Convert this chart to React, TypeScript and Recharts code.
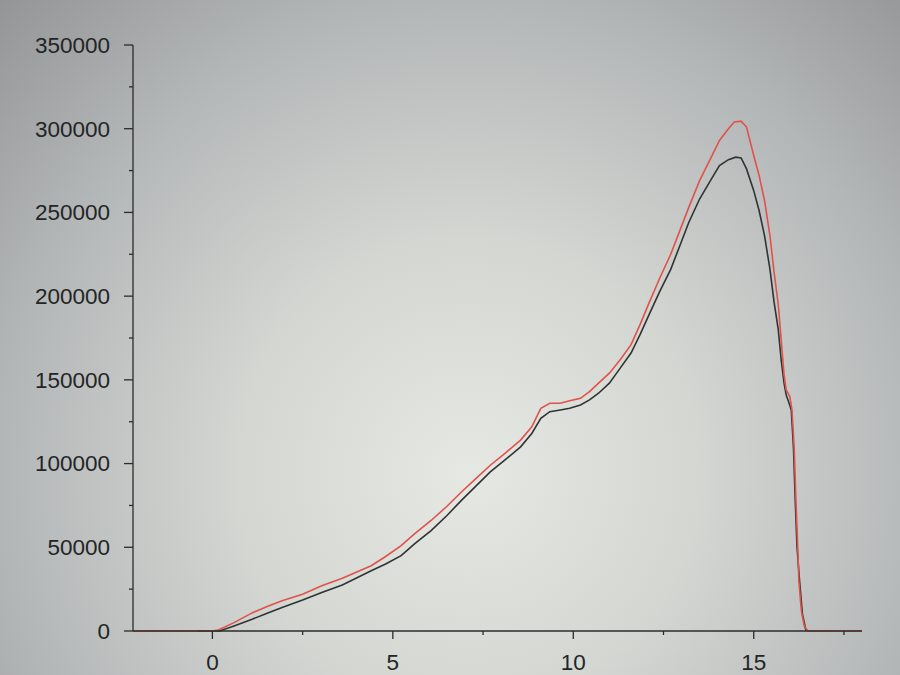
import React from 'react';
import { LineChart, Line, XAxis, YAxis } from 'recharts';

// red trace (upper)
const redX = [-2.2, 0.0, 0.15, 0.6, 1.1, 1.5, 1.93, 2.5, 3.03, 3.6, 4.4, 4.8, 5.23, 5.6, 6.06, 6.5, 6.9, 7.3, 7.7, 8.1, 8.54, 8.85, 9.1, 9.35, 9.64, 9.9, 10.2, 10.45, 10.7, 11.0, 11.3, 11.6, 11.85, 12.1, 12.4, 12.7, 12.95, 13.2, 13.5, 13.8, 14.05, 14.3, 14.46, 14.65, 14.8, 15.0, 15.15, 15.3, 15.45, 15.56, 15.68, 15.76, 15.84, 15.9, 16.0, 16.06, 16.12, 16.17, 16.22, 16.25, 16.32, 16.4, 16.5, 18.0];
const redY = [0, 0, 500, 5000, 10800, 14500, 18000, 22000, 27000, 31500, 39000, 44500, 51000, 58000, 66000, 74500, 83000, 91000, 99000, 106000, 114000, 122000, 133000, 136000, 136000, 137500, 139000, 143000, 148000, 154000, 162000, 171000, 183000, 196000, 211000, 225000, 239000, 253000, 269000, 282000, 293000, 300000, 304000, 304500, 301000, 284000, 272000, 257000, 236000, 215000, 195000, 174000, 153000, 144000, 140000, 132000, 110000, 78000, 50000, 30000, 12000, 3000, 0, 0];

// black trace (lower)
const blackX = [-0.4, 0.2, 0.6, 1.1, 1.5, 1.93, 2.5, 3.03, 3.6, 4.4, 4.8, 5.23, 5.6, 6.06, 6.5, 6.9, 7.3, 7.7, 8.1, 8.54, 8.85, 9.1, 9.35, 9.64, 9.9, 10.2, 10.45, 10.7, 11.0, 11.3, 11.6, 11.85, 12.1, 12.4, 12.7, 12.95, 13.2, 13.5, 13.8, 14.05, 14.3, 14.5, 14.65, 14.8, 15.0, 15.15, 15.3, 15.45, 15.56, 15.68, 15.76, 15.84, 15.9, 15.98, 16.04, 16.1, 16.15, 16.2, 16.27, 16.35, 16.45];
const blackY = [0, 0, 3000, 7000, 10500, 14000, 18500, 23000, 27500, 36000, 40000, 45000, 52000, 60000, 69000, 78000, 86500, 95000, 102000, 110000, 118000, 127000, 131000, 132000, 133000, 135000, 138000, 142000, 148000, 157000, 166000, 177000, 189000, 203000, 216000, 230000, 244000, 258000, 269000, 278000, 281500, 283000, 282500, 276000, 263000, 251000, 236000, 216000, 197000, 180000, 162000, 148000, 141000, 136000, 132000, 110000, 78000, 50000, 30000, 10000, 0];

const xTicks = [0, 2.5, 5, 7.5, 10, 12.5, 15, 17.5];
const yTicks = [0, 25000, 50000, 75000, 100000, 125000, 150000, 175000, 200000, 225000, 250000, 275000, 300000, 325000, 350000];

const redData = redX.map((x, i) => ({ x, y: redY[i] }));
const blackData = blackX.map((x, i) => ({ x, y: blackY[i] }));

const axisColor = '#2a2c2c';
const font = 'Liberation Sans, Arial, sans-serif';

const XTick = ({ x, y, payload }: any) => {
  const major = payload.value % 5 === 0;
  return (
    <g>
      <line x1={x} y1={y} x2={x} y2={y + (major ? 8 : 4)} stroke={axisColor} strokeWidth={1.3} />
      {major && (
        <text x={x} y={y + 39} textAnchor="middle" fontSize={22.5} fontFamily={font} fill="#232525">
          {payload.value}
        </text>
      )}
    </g>
  );
};

const YTick = ({ x, y, payload }: any) => {
  const major = payload.value % 50000 === 0;
  return (
    <g>
      <line x1={x} y1={y} x2={x - (major ? 9 : 4)} y2={y} stroke={axisColor} strokeWidth={1.3} />
      {major && (
        <text x={x - 23} y={y} dy="0.35em" textAnchor="end" fontSize={22.5} fontFamily={font} fill="#232525">
          {payload.value}
        </text>
      )}
    </g>
  );
};

export default function App() {
  return (
    <div
      style={{
        width: 900,
        height: 675,
        background:
          'radial-gradient(ellipse at 52% 70%, #e6e8e4 0%, #d3d6d1 35%, #b4b7b8 70%, #939597 100%)',
      }}
    >
      <style>{`body{margin:0}`}</style>
      <LineChart
        width={900}
        height={675}
        margin={{ top: 45, right: 38, bottom: 0, left: 0 }}
      >
        <XAxis
          type="number"
          dataKey="x"
          domain={[-2.2, 18]}
          ticks={xTicks}
          allowDataOverflow
          height={44}
          tickSize={0}
          tickMargin={0}
          tickLine={false}
          tick={<XTick />}
          axisLine={{ stroke: axisColor, strokeWidth: 1.3 }}
          interval={0}
        />
        <YAxis
          type="number"
          dataKey="y"
          domain={[0, 350000]}
          ticks={yTicks}
          width={133}
          tickSize={0}
          tickMargin={0}
          tickLine={false}
          tick={<YTick />}
          axisLine={{ stroke: axisColor, strokeWidth: 1.3 }}
          interval={0}
        />
        <Line
          data={blackData}
          dataKey="y"
          type="linear"
          stroke="#2e3434"
          strokeWidth={1.6}
          dot={false}
          isAnimationActive={false}
        />
        <Line
          data={redData}
          dataKey="y"
          type="linear"
          stroke="#e0524a"
          strokeWidth={1.6}
          dot={false}
          isAnimationActive={false}
        />
      </LineChart>
    </div>
  );
}
